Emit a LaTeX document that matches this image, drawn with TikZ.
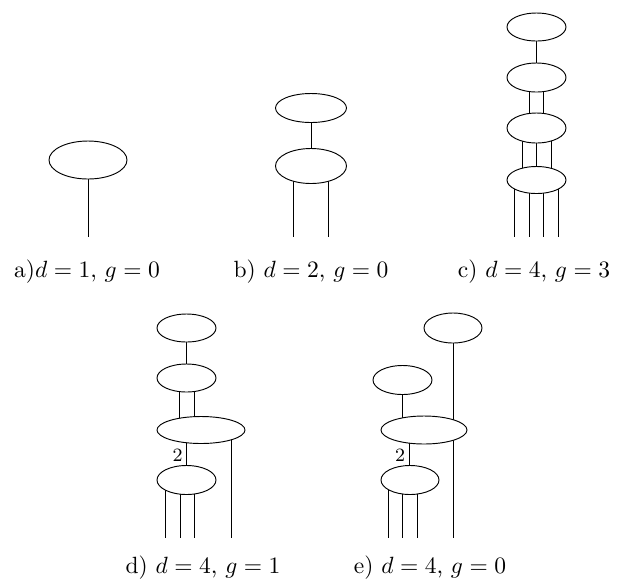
\documentclass[tikz,border=0pt]{standalone}
\usetikzlibrary{shapes.geometric}
\usetikzlibrary{backgrounds}
\usetikzlibrary{calc}

\begin{document}
\begin{tikzpicture}[x=0.4255pt, y=-0.4255pt]

	% unit of the sketch
	\def\u{0.4255pt}
	\tikzset{
		blob/.style 2 args={ellipse, draw, fill=white, inner sep=0pt,
			minimum width=#1*\u, minimum height=#2*\u},
		caption/.style={anchor=base, inner sep=0pt},
		mult/.style={left, font=\footnotesize, inner sep=1.5pt}
	}
	\useasboundingbox (0,0) rectangle (617,581);

	% base lines of the two rows
	\coordinate (rowA) at (0,237);
	\coordinate (rowB) at (0,538);

	% a) one blob
	\node[blob={78}{38}] (a1) at (88,160) {};

	% b) two blobs
	\node[blob={71}{29}] (b1) at (311,108) {};
	\node[blob={71}{35}] (b2) at (311,166) {};

	% c) chain of four blobs
	\node[blob={59}{28}] (c1) at (536.5,27) {};
	\node[blob={59}{29}] (c2) at (536.5,77.5) {};
	\node[blob={59}{30}] (c3) at (536.5,128) {};
	\node[blob={59}{27}] (c4) at (536.5,180) {};

	% d) chain with a wide blob
	\node[blob={59}{28}] (d1) at (186.5,328) {};
	\node[blob={59}{28}] (d2) at (186.5,378) {};
	\node[blob={88}{27}] (d3) at (201,430) {};
	\node[blob={59}{29}] (d4) at (186.5,480) {};

	% e) two blobs on top of a wide blob
	\node[blob={58}{30}] (e1) at (453,328) {};
	\node[blob={59}{29}] (e2) at (402.5,380) {};
	\node[blob={86}{28}] (e3) at (424,430) {};
	\node[blob={58}{29}] (e4) at (410,480) {};

	% strands, behind the blobs
	\begin{pgfonlayer}{background}
		% a)
		\draw (a1.center) -- (a1.center |- rowA);
		% b)
		\draw (b1) -- (b2);
		\foreach \dx in {-17.5,17.5} {
			\draw ([xshift=\dx*\u]b2.center) -- ([xshift=\dx*\u]b2.center |- rowA);
		}
		% c)
		\draw (c1) -- (c2);
		\foreach \dx in {-7.25,7.25} {
			\draw ([xshift=\dx*\u]c2.center) -- ([xshift=\dx*\u]c3.center);
		}
		\foreach \dx in {-14.5,0,14.5} {
			\draw ([xshift=\dx*\u]c3.center) -- ([xshift=\dx*\u]c4.center);
		}
		\foreach \dx in {-21.75,-7.25,7.25,21.75} {
			\draw ([xshift=\dx*\u]c4.center) -- ([xshift=\dx*\u]c4.center |- rowA);
		}
		% d)
		\draw (d1) -- (d2);
		\foreach \dx in {-7.5,7.5} {
			\draw ([xshift=\dx*\u]d2.center) -- ([xshift=\dx*\u]d2.center |- d3.center);
		}
		\draw (d4.center) -- node[mult] {2} (d4.center |- d3.center);
		\draw ([xshift=30*\u]d3.center) -- ([xshift=30*\u]d3.center |- rowB);
		\foreach \dx in {-21.5,-6.5,7.5} {
			\draw ([xshift=\dx*\u]d4.center) -- ([xshift=\dx*\u]d4.center |- rowB);
		}
		% e)
		\draw (e1.center) -- (e1.center |- rowB);
		\draw (e2.center) -- (e2.center |- e3.center);
		\draw ([xshift=-1*\u]e4.center) -- node[mult] {2} ([xshift=-1*\u]e4.center |- e3.center);
		\foreach \dx in {-22,-8,7} {
			\draw ([xshift=\dx*\u]e4.center) -- ([xshift=\dx*\u]e4.center |- rowB);
		}
	\end{pgfonlayer}

	% captions
	\node[caption] (capa) at (87,277) {a)$d=1$, $g=0$};
	\node[caption] (capb) at (311,277) {b) $d=2$, $g=0$};
	\node[caption] (capc) at (534,277) {c) $d=4$, $g=3$};
	\node[caption] (capd) at (203,573) {d) $d=4$, $g=1$};
	\node[caption] (cape) at (430,573) {e) $d=4$, $g=0$};

\end{tikzpicture}
\end{document}
